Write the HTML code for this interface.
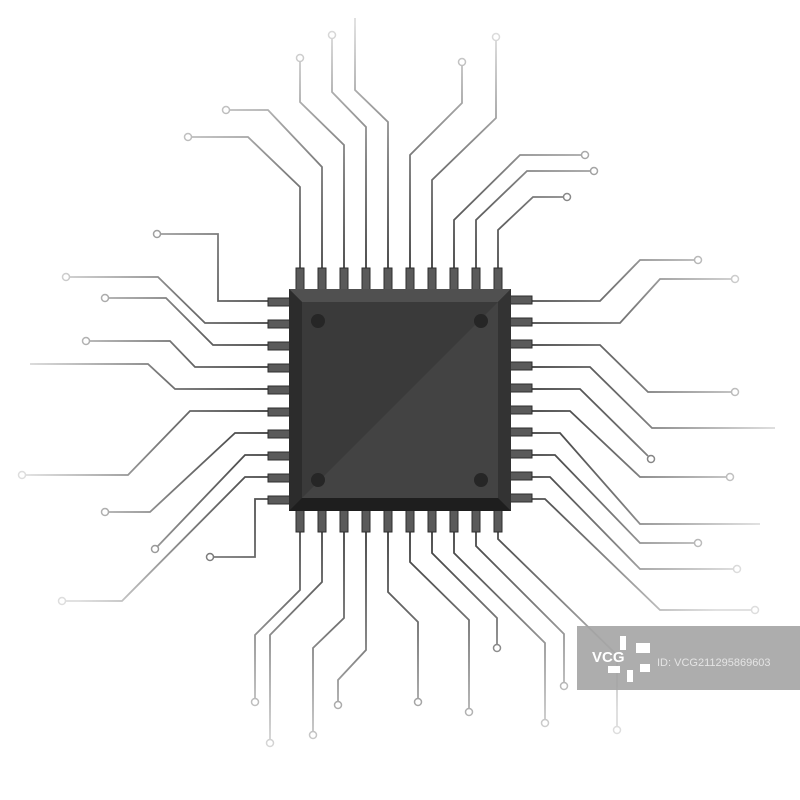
<!DOCTYPE html>
<html><head><style>html,body{margin:0;background:#fff}svg{display:block}</style></head><body>
<svg width="800" height="800" viewBox="0 0 800 800" xmlns="http://www.w3.org/2000/svg">
<defs>
<radialGradient id="g" gradientUnits="userSpaceOnUse" cx="400" cy="400" r="400">
<stop offset="0.3" stop-color="#333"/>
<stop offset="0.6" stop-color="#777"/>
<stop offset="0.95" stop-color="#ddd"/>
</radialGradient>
</defs>
<g fill="none" stroke="url(#g)" stroke-width="1.8">
<!-- top -->
<polyline points="300,268 300,187 248,137 188,137"/>
<polyline points="322,268 322,167 268,110 229,110"/>
<polyline points="344,268 344,145 300,102 300,61"/>
<polyline points="366,268 366,127 332,92 332,38"/>
<polyline points="388,268 388,122 355,90 355,18"/>
<polyline points="410,268 410,155 462,103 462,65"/>
<polyline points="432,268 432,180 496,118 496,40"/>
<polyline points="454,268 454,220 520,155 582,155"/>
<polyline points="476,268 476,220 527,171 591,171"/>
<polyline points="498,268 498,230 533,197 564,197"/>
<!-- left -->
<polyline points="268,301 218,301 218,234 160,234"/>
<polyline points="268,323 205,323 158,277 69,277"/>
<polyline points="268,345 213,345 166,298 108,298"/>
<polyline points="268,367 195,367 170,341 89,341"/>
<polyline points="268,389 175,389 148,364 30,364"/>
<polyline points="268,411 190,411 128,475 25,475"/>
<polyline points="268,433 235,433 150,512 108,512"/>
<polyline points="268,455 245,455 157,547"/>
<polyline points="268,477 245,477 122,601 65,601"/>
<polyline points="268,499 255,499 255,557 213,557"/>
<!-- right -->
<polyline points="532,301 600,301 640,260 695,260"/>
<polyline points="532,323 620,323 660,279 732,279"/>
<polyline points="532,345 600,345 648,392 732,392"/>
<polyline points="532,367 590,367 652,428 775,428"/>
<polyline points="532,389 580,389 648,456"/>
<polyline points="532,411 570,411 640,477 727,477"/>
<polyline points="532,433 560,433 640,524 760,524"/>
<polyline points="532,455 555,455 640,543 695,543"/>
<polyline points="532,477 550,477 640,569 734,569"/>
<polyline points="532,499 545,499 660,610 752,610"/>
<!-- bottom -->
<polyline points="300,532 300,590 255,635 255,699"/>
<polyline points="322,532 322,582 270,635 270,742"/>
<polyline points="344,532 344,618 313,648 313,732"/>
<polyline points="366,532 366,650 338,680 338,702"/>
<polyline points="388,532 388,592 418,622 418,699"/>
<polyline points="410,532 410,562 469,620 469,709"/>
<polyline points="432,532 432,553 497,618 497,645"/>
<polyline points="454,532 454,553 545,643 545,720"/>
<polyline points="476,532 476,546 564,634 564,683"/>
<polyline points="498,532 498,539 617,655 617,727"/>
</g>
<g fill="#fff" stroke="url(#g)" stroke-width="1.5">
<circle cx="188" cy="137" r="3.5"/><circle cx="226" cy="110" r="3.5"/><circle cx="300" cy="58" r="3.5"/><circle cx="332" cy="35" r="3.5"/><circle cx="462" cy="62" r="3.5"/><circle cx="496" cy="37" r="3.5"/><circle cx="585" cy="155" r="3.5"/><circle cx="594" cy="171" r="3.5"/><circle cx="567" cy="197" r="3.5"/>
<circle cx="157" cy="234" r="3.5"/><circle cx="66" cy="277" r="3.5"/><circle cx="105" cy="298" r="3.5"/><circle cx="86" cy="341" r="3.5"/><circle cx="22" cy="475" r="3.5"/><circle cx="105" cy="512" r="3.5"/><circle cx="155" cy="549" r="3.5"/><circle cx="62" cy="601" r="3.5"/><circle cx="210" cy="557" r="3.5"/>
<circle cx="698" cy="260" r="3.5"/><circle cx="735" cy="279" r="3.5"/><circle cx="735" cy="392" r="3.5"/><circle cx="651" cy="459" r="3.5"/><circle cx="730" cy="477" r="3.5"/><circle cx="698" cy="543" r="3.5"/><circle cx="737" cy="569" r="3.5"/><circle cx="755" cy="610" r="3.5"/>
<circle cx="255" cy="702" r="3.5"/><circle cx="270" cy="743" r="3.5"/><circle cx="313" cy="735" r="3.5"/><circle cx="338" cy="705" r="3.5"/><circle cx="418" cy="702" r="3.5"/><circle cx="469" cy="712" r="3.5"/><circle cx="497" cy="648" r="3.5"/><circle cx="545" cy="723" r="3.5"/><circle cx="564" cy="686" r="3.5"/><circle cx="617" cy="730" r="3.5"/>
</g>
<!-- pins -->
<g fill="#5a5a5a" stroke="#2e2e2e" stroke-width="1">
<g id="pt">
<rect x="296" y="268" width="8" height="22"/><rect x="318" y="268" width="8" height="22"/><rect x="340" y="268" width="8" height="22"/><rect x="362" y="268" width="8" height="22"/><rect x="384" y="268" width="8" height="22"/><rect x="406" y="268" width="8" height="22"/><rect x="428" y="268" width="8" height="22"/><rect x="450" y="268" width="8" height="22"/><rect x="472" y="268" width="8" height="22"/><rect x="494" y="268" width="8" height="22"/>
</g>
<use href="#pt" transform="translate(0,242)"/>
<use href="#pt" transform="rotate(90 400 400)"/>
<use href="#pt" transform="rotate(-90 400 400)"/>
</g>
<!-- chip -->
<rect x="289" y="289" width="222" height="222" fill="#2a2a2a"/>
<polygon points="289,289 511,289 498,302 302,302" fill="#505050"/>
<polygon points="289,289 302,302 302,498 289,511" fill="#2c2c2c"/>
<polygon points="511,289 511,511 498,498 498,302" fill="#333"/>
<polygon points="289,511 511,511 498,498 302,498" fill="#1e1e1e"/>
<rect x="302" y="302" width="196" height="196" fill="#3a3a3a"/>
<polygon points="498,302 498,498 302,498" fill="#434343"/>
<g fill="#262626"><circle cx="318" cy="321" r="7"/><circle cx="481" cy="321" r="7"/><circle cx="318" cy="480" r="7"/><circle cx="481" cy="480" r="7"/></g>
<!-- watermark -->
<rect x="577" y="626" width="223" height="64" fill="#a4a4a4" opacity="0.9"/>
<text x="592" y="662" font-family="Liberation Sans, sans-serif" font-size="15" font-weight="bold" fill="#fff">VCG</text>
<g fill="#fff"><rect x="620" y="636" width="6" height="14"/><rect x="636" y="643" width="14" height="10"/><rect x="608" y="666" width="12" height="7"/><rect x="627" y="670" width="6" height="12"/><rect x="640" y="664" width="10" height="8"/></g>
<text x="657" y="666" font-family="Liberation Sans, sans-serif" font-size="11" fill="#e4e4e4">ID: VCG211295869603</text>
</svg>
</body></html>
